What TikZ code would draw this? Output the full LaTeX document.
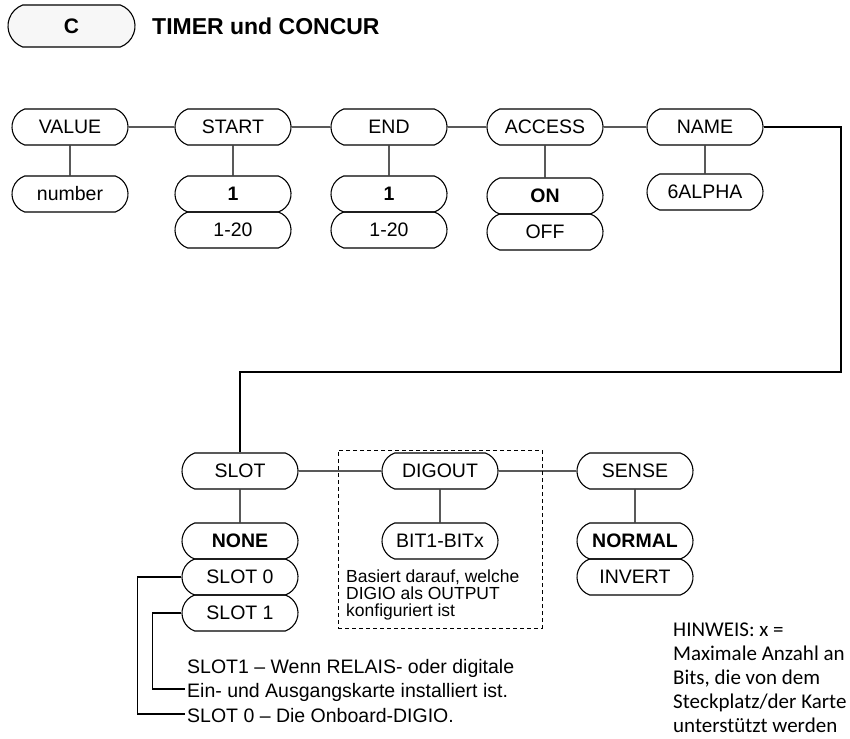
\documentclass[tikz,border=0pt]{standalone}
\usepackage{fontspec}
\setmainfont{Liberation Sans}
\newfontfamily\notefont{Carlito}
\usetikzlibrary{shapes.misc}
\begin{document}
\begin{tikzpicture}[x=1pt,y=1pt,
  box/.style={draw, line width=1.1pt, rounded rectangle, rounded rectangle arc length=140,
    minimum width=116pt, minimum height=36pt, inner sep=0pt,
    font=\fontsize{19.5}{22}\selectfont},
  bbox/.style={box, font=\fontsize{19.5}{22}\selectfont\bfseries},
  link/.style={draw, line width=1.1pt},
  txt/.style={inner sep=0pt, font=\fontsize{19.5}{24}\selectfont},
  ntxt/.style={anchor=base west, inner sep=0pt, font=\fontsize{17.5}{17}\selectfont}]
\useasboundingbox (0,0) rectangle (850,-738);

% header
\node[box, fill=gray!6, minimum width=127pt, minimum height=42pt,
  font=\fontsize{21}{24}\selectfont\bfseries] (C) at (71.5,-26) {C};
\node[anchor=west, inner sep=0pt, font=\fontsize{23}{26}\selectfont\bfseries] (title) at (152,-26) {TIMER und CONCUR};

% top row
\node[box] (value) at (70,-127) {VALUE};
\node[box] (number) at (70,-194) {number};
\node[box] (start) at (233,-127) {START};
\node[bbox] (s1) at (233,-194) {1};
\node[box] (s120) at (233,-230) {1-20};
\node[box] (end) at (389,-127) {END};
\node[bbox] (e1) at (389,-194) {1};
\node[box] (e120) at (389,-230) {1-20};
\node[box] (access) at (545,-127) {ACCESS};
\node[bbox] (on) at (545,-196) {ON};
\node[box] (off) at (545,-232) {OFF};
\node[box] (name) at (705,-127) {NAME};
\node[box] (alpha) at (705,-192) {6ALPHA};

\draw[link] (value) -- (start);
\draw[link] (start) -- (end);
\draw[link] (end) -- (access);
\draw[link] (access) -- (name);
\draw[link] (value) -- (number);
\draw[link] (start) -- (s1);
\draw[link] (end) -- (e1);
\draw[link] (access) -- (on);
\draw[link] (name) -- (alpha);

% bottom row
\node[draw, dash pattern=on 4pt off 3pt, line width=0.8pt, minimum width=204pt,
  minimum height=178pt, inner sep=0pt] (grp) at (440,-539) {};
\node[box] (slot) at (240,-471) {SLOT};
\node[box] (digout) at (440,-471) {DIGOUT};
\node[box] (sense) at (635,-471) {SENSE};
\node[bbox] (none) at (240,-541) {NONE};
\node[box] (slot0) at (240,-577) {SLOT 0};
\node[box] (slot1) at (240,-613) {SLOT 1};
\node[box] (bit) at (440,-541) {BIT1-BITx};
\node[bbox] (normal) at (635,-541) {NORMAL};
\node[box] (invert) at (635,-577) {INVERT};

\coordinate (r1) at (841,-127);
\coordinate (r2) at (841,-372);
\coordinate (r3) at (240,-372);
\draw[link] (name.east) -- (r1) -- (r2) -- (r3) -- (slot.north);

\draw[link] (slot) -- (digout);
\draw[link] (digout) -- (sense);
\draw[link] (slot) -- (none);
\draw[link] (digout) -- (bit);
\draw[link] (sense) -- (normal);

% notes
\node[ntxt] (n1) at (346,-582) {Basiert darauf, welche};
\node[ntxt] (n2) at (346,-599) {DIGIO als OUTPUT};
\node[ntxt] (n3) at (346,-616) {konfiguriert ist};

\node[txt, anchor=base west] (t1) at (187,-673) {SLOT1 – Wenn RELAIS- oder digitale};
\node[txt, anchor=base west] (t2) at (187,-697) {Ein- und Ausgangskarte installiert ist.};
\node[txt, anchor=base west] (t3) at (187,-722) {SLOT 0 – Die Onboard-DIGIO.};
\draw[link] (slot1.west) -- ++(-29,0) |- ([xshift=-2pt,yshift=8pt]t2.base west);
\draw[link] (slot0.west) -- ++(-44,0) |- ([xshift=-2pt,yshift=8pt]t3.base west);

\node[anchor=north west, align=left, inner sep=0pt, font=\notefont\fontsize{21}{24}\selectfont] (hint) at (673,-623)
  {HINWEIS: x =\\Maximale Anzahl an\\Bits, die von dem\\Steckplatz/der Karte\\unterstützt werden};
\end{tikzpicture}
\end{document}
